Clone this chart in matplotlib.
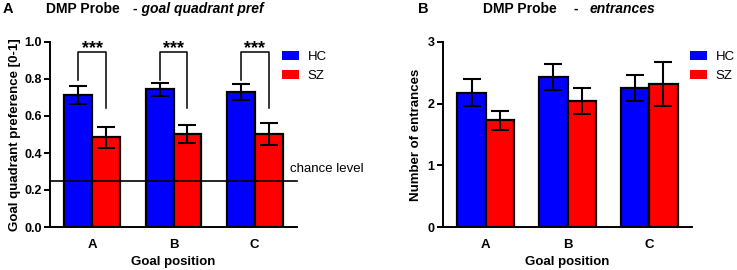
import numpy as np
import matplotlib
matplotlib.use('Agg')
from matplotlib import pyplot as plt

plt.rcParams['font.family'] = ['Liberation Sans', 'DejaVu Sans']

# data
positions = ['A', 'B', 'C']
groups = ['HC', 'SZ']
pref_hc = [0.713, 0.745, 0.730]
pref_hc_err = [0.050, 0.035, 0.045]
pref_sz = [0.485, 0.502, 0.503]
pref_sz_err = [0.057, 0.050, 0.058]
entr_hc = [2.18, 2.43, 2.25]
entr_hc_err = [0.22, 0.21, 0.21]
entr_sz = [1.73, 2.04, 2.32]
entr_sz_err = [0.15, 0.21, 0.36]
chance = 0.25
sig_labels = ['***', '***', '***']

colors = {'HC': '#0000ff', 'SZ': '#ff0000'}
width = 0.343
W, H = 737, 270


def draw_bars(ax, hc, hc_err, sz, sz_err, legend_xy):
    x = np.arange(len(positions))
    for off, vals, errs, name in ((-width / 2, hc, hc_err, 'HC'), (width / 2, sz, sz_err, 'SZ')):
        ax.bar(x + off, vals, width=width, color=colors[name], edgecolor='black',
               linewidth=1.6, label=name, zorder=2)
        ax.errorbar(x + off, vals, yerr=errs, fmt='none', ecolor='black',
                    elinewidth=1.5, capsize=6.5, capthick=1.5, zorder=3)
    ax.set_xticks(x)
    ax.set_xticklabels(positions, fontweight='bold', fontsize=9.5)
    ax.set_xlim(-0.52, 2.52)
    ax.tick_params(axis='x', length=0, pad=9)
    ax.tick_params(axis='y', width=1.4, length=4, labelsize=9, pad=2)
    for s in ('top', 'right'):
        ax.spines[s].set_visible(False)
    for s in ('left', 'bottom'):
        ax.spines[s].set_linewidth(1.4)
    ax.set_xlabel('Goal position', fontweight='bold', fontsize=9.5, labelpad=3)
    leg = ax.legend(loc='upper left', bbox_to_anchor=legend_xy,
                    bbox_transform=fig.transFigure, frameon=False,
                    fontsize=9.5, handlelength=1.3, handleheight=0.7,
                    labelspacing=0.5, handletextpad=0.65,
                    borderpad=0, borderaxespad=0)
    for h in leg.legend_handles:
        h.set_linewidth(0)


fig = plt.figure(figsize=(W / 100, H / 100), dpi=100)
ax1 = fig.add_axes([50 / W, 43 / H, 247 / W, 185 / H])
ax2 = fig.add_axes([443 / W, 43 / H, 249 / W, 185 / H])

# panel A
draw_bars(ax1, pref_hc, pref_hc_err, pref_sz, pref_sz_err, (282 / W, 1 - 51 / H))
ax1.set_ylim(0, 1.0)
ax1.set_yticks([0.0, 0.2, 0.4, 0.6, 0.8, 1.0])
ax1.set_yticklabels(['0.0', '0.2', '0.4', '0.6', '0.8', '1.0'], fontweight='bold')
ax1.set_ylabel('Goal quadrant preference [0-1]', fontweight='bold', fontsize=9.5, labelpad=2)
ax1.plot([-0.52, 2.52], [chance, chance], color='black', lw=1.2, clip_on=False, zorder=4)
ax1.text(2.44, chance + 0.045, 'chance level', fontsize=9.5, ha='left', va='baseline')
for i, lab in enumerate(sig_labels):
    xl, xr = i - width / 2, i + width / 2
    top = 0.945
    ax1.plot([xl, xl, xr, xr], [0.795, top, top, 0.643], color='black', lw=1.1,
             clip_on=False, zorder=4)
    ax1.text(i, top - 0.005, lab, ha='center', va='baseline', fontsize=13,
             fontweight='bold', clip_on=False)
fig.text(3 / W, 1 - 9 / H, 'A', fontsize=10.5, fontweight='bold', va='center')
fig.text(46 / W, 1 - 9 / H, 'DMP Probe', fontsize=10, fontweight='bold', va='center')
fig.text(133 / W, 1 - 9 / H, '- goal quadrant pref', fontsize=10, fontweight='bold',
         style='italic', va='center')

# panel B
draw_bars(ax2, entr_hc, entr_hc_err, entr_sz, entr_sz_err, (690 / W, 1 - 51 / H))
ax2.set_ylim(0, 3)
ax2.set_yticks([0, 1, 2, 3])
ax2.set_yticklabels(['0', '1', '2', '3'], fontweight='bold')
ax2.set_ylabel('Number of entrances', fontweight='bold', fontsize=9.5, labelpad=4)
fig.text(418 / W, 1 - 9 / H, 'B', fontsize=10.5, fontweight='bold', va='center')
fig.text(483 / W, 1 - 9 / H, 'DMP Probe', fontsize=10, fontweight='bold', va='center')
fig.text(573 / W, 1 - 9 / H, '-', fontsize=10, fontweight='bold', va='center')
fig.text(590 / W, 1 - 9 / H, 'entrances', fontsize=10, fontweight='bold', style='italic',
         va='center')

fig.savefig('out.png', dpi=100)
